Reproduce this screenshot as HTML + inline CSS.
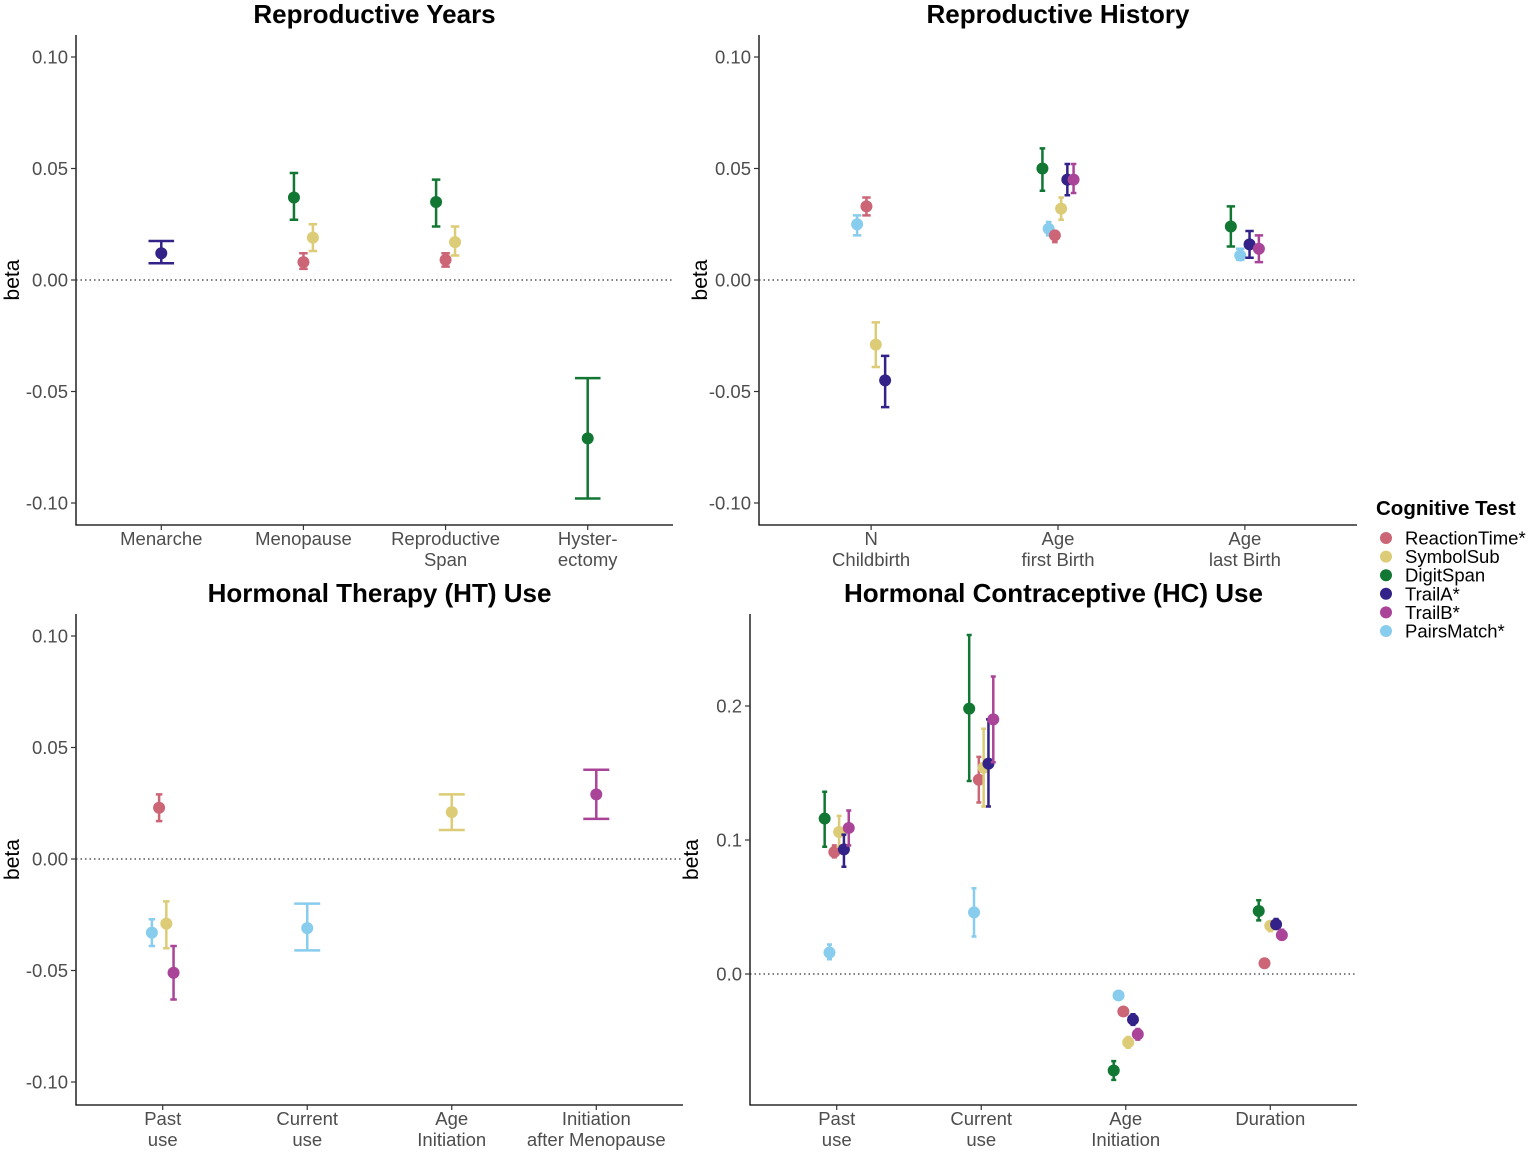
<!DOCTYPE html>
<html><head><meta charset="utf-8"><style>
html,body{margin:0;padding:0;background:#fff;}
svg{display:block;font-family:"Liberation Sans",sans-serif;}
</style></head><body>
<svg id="chart" width="1535" height="1152" viewBox="0 0 1535 1152"></svg>
<script>
const series = ["ReactionTime*","SymbolSub","DigitSpan","TrailA*","TrailB*","PairsMatch*"];
const seriesKeys = ["RT","SS","DS","TA","TB","PM"];
const colors = {RT:"#cc6677",SS:"#ddcc77",DS:"#117733",TA:"#332288",TB:"#aa4499",PM:"#88ccee"};
const dodgeOrder = ["DS","PM","RT","SS","TA","TB"];

// Panel A: Reproductive Years
const ryCats = [["Menarche"],["Menopause"],["Reproductive","Span"],["Hyster-","ectomy"]];
const ryTicks = [0.10,0.05,0.00,-0.05,-0.10];
const ryTickLabels = ["0.10","0.05","0.00","-0.05","-0.10"];
const ryRT = [null,0.008,0.009,null], ryRTlo=[null,0.005,0.006,null], ryRThi=[null,0.012,0.012,null];
const rySS = [null,0.019,0.017,null], rySSlo=[null,0.013,0.011,null], rySShi=[null,0.025,0.024,null];
const ryDS = [null,0.037,0.035,-0.071], ryDSlo=[null,0.027,0.024,-0.098], ryDShi=[null,0.048,0.045,-0.044];
const ryTA = [0.012,null,null,null], ryTAlo=[0.0075,null,null,null], ryTAhi=[0.0175,null,null,null];

// Panel B: Reproductive History
const rhCats = [["N","Childbirth"],["Age","first Birth"],["Age","last Birth"]];
const rhRT = [0.033,0.020,null], rhRTlo=[0.029,0.017,null], rhRThi=[0.037,0.022,null];
const rhSS = [-0.029,0.032,null], rhSSlo=[-0.039,0.027,null], rhSShi=[-0.019,0.037,null];
const rhDS = [null,0.050,0.024], rhDSlo=[null,0.040,0.015], rhDShi=[null,0.059,0.033];
const rhTA = [-0.045,0.045,0.016], rhTAlo=[-0.057,0.038,0.010], rhTAhi=[-0.034,0.052,0.022];
const rhTB = [null,0.045,0.014], rhTBlo=[null,0.039,0.008], rhTBhi=[null,0.052,0.020];
const rhPM = [0.025,0.023,0.011], rhPMlo=[0.020,0.020,0.009], rhPMhi=[0.029,0.026,0.014];

// Panel C: HT use
const htCats = [["Past","use"],["Current","use"],["Age","Initiation"],["Initiation","after Menopause"]];
const htRT = [0.023,null,null,null], htRTlo=[0.017,null,null,null], htRThi=[0.029,null,null,null];
const htSS = [-0.029,null,0.021,null], htSSlo=[-0.040,null,0.013,null], htSShi=[-0.019,null,0.029,null];
const htTB = [-0.051,null,null,0.029], htTBlo=[-0.063,null,null,0.018], htTBhi=[-0.039,null,null,0.040];
const htPM = [-0.033,-0.031,null,null], htPMlo=[-0.039,-0.041,null,null], htPMhi=[-0.027,-0.020,null,null];

// Panel D: HC use
const hcCats = [["Past","use"],["Current","use"],["Age","Initiation"],["Duration"]];
const hcTicks = [0.2,0.1,0.0];
const hcTickLabels = ["0.2","0.1","0.0"];
const hcRT = [0.091,0.145,-0.028,0.008], hcRTlo=[0.087,0.128,-0.030,0.007], hcRThi=[0.096,0.162,-0.026,0.009];
const hcSS = [0.106,0.154,-0.051,0.036], hcSSlo=[0.095,0.125,-0.055,0.032], hcSShi=[0.118,0.183,-0.047,0.039];
const hcDS = [0.116,0.198,-0.072,0.047], hcDSlo=[0.095,0.144,-0.079,0.040], hcDShi=[0.136,0.253,-0.065,0.055];
const hcTA = [0.093,0.157,-0.034,0.037], hcTAlo=[0.080,0.125,-0.038,0.034], hcTAhi=[0.104,0.190,-0.030,0.041];
const hcTB = [0.109,0.190,-0.045,0.029], hcTBlo=[0.096,0.158,-0.049,0.026], hcTBhi=[0.122,0.222,-0.041,0.033];
const hcPM = [0.016,0.046,-0.016,null], hcPMlo=[0.011,0.028,-0.017,null], hcPMhi=[0.022,0.064,-0.015,null];

const NS="http://www.w3.org/2000/svg";
const svg=document.getElementById("chart");
function mk(tag,attrs,parent,text){const e=document.createElementNS(NS,tag);for(const k in attrs)e.setAttribute(k,attrs[k]);if(text!==undefined)e.textContent=text;(parent||svg).appendChild(e);return e;}

function panel(p){
  const g=mk("g",{});
  
  
  const yS=v=>p.y0px+(p.y0val-v)*(p.y1px-p.y0px)/(p.y0val-p.y1val);
  const nC=p.cats.length, unit=(p.x1-p.x0)/(nC-1+1.2);
  const xS=i=>p.x0+(0.6+i)*unit;
  const t=mk("text",{x:(p.x0+p.x1)/2,y:p.top-12,"text-anchor":"middle","font-size":26,"font-weight":"bold",fill:"#000"},g,p.title);
  
  
  const ax=mk("path",{d:`M${p.x0} ${p.top}V${p.bottom}H${p.x1}`,stroke:"#000","stroke-width":1.3,fill:"none"},g);
  
  
  const zl=mk("line",{x1:p.x0,x2:p.x1,y1:yS(0),y2:yS(0),stroke:"#333","stroke-width":1.3,"stroke-dasharray":"1.5,3"},g);
  
  
  p.ticks.forEach((v,i)=>{
    mk("line",{x1:p.x0-5,x2:p.x0,y1:yS(v),y2:yS(v),stroke:"#333","stroke-width":1.2},g);
    const tl=mk("text",{x:p.x0-8,y:yS(v)+6.5,"text-anchor":"end","font-size":18.5,fill:"#4d4d4d"},g,p.tickLabels[i]);
    
    
  });
  p.cats.forEach((c,i)=>{
    mk("line",{x1:xS(i),x2:xS(i),y1:p.bottom,y2:p.bottom+5,stroke:"#333","stroke-width":1.2},g);
    c.forEach((s,j)=>{
      const tl=mk("text",{x:xS(i),y:p.bottom+20+j*21,"text-anchor":"middle","font-size":18.5,fill:"#4d4d4d"},g,s);
      
      
    });
  });
  const yl=mk("text",{x:0,y:0,transform:`translate(19,${(p.top+p.bottom)/2}) rotate(-90)`,"text-anchor":"middle","font-size":21,fill:"#000"},g,"beta");
  
  
  if(p.x0>600) yl.setAttribute('transform',`translate(${p.x0-52},${(p.top+p.bottom)/2}) rotate(-90)`);
  p.cats.forEach((c,i)=>{
    const present=dodgeOrder.filter(k=>p.data[k]&&p.data[k][0][i]!=null);
    const n=present.length, w=0.2*unit, step=w/n;
    present.forEach((k,j)=>{
      const [est,lo,hi]=p.data[k];
      const x=xS(i)+(j-(n-1)/2)*step, cw=Math.max(step*0.9,5)/2;
      const col=colors[k];
      const eb=mk("path",{d:`M${x-cw} ${yS(hi[i])}H${x+cw}M${x} ${yS(hi[i])}V${yS(lo[i])}M${x-cw} ${yS(lo[i])}H${x+cw}`,stroke:col,"stroke-width":2.5,fill:"none"},g);
      
      
      const pt=mk("circle",{cx:x,cy:yS(est[i]),r:6,fill:col},g);
      
      
    });
  });
}
panel({name:"panel-reproductive-years",title:"Reproductive Years",x0:76,x1:673,top:35,bottom:525,y0val:0,y0px:280,y1val:0.10,y1px:57,ticks:ryTicks,tickLabels:ryTickLabels,cats:ryCats,
  data:{RT:[ryRT,ryRTlo,ryRThi],SS:[rySS,rySSlo,rySShi],DS:[ryDS,ryDSlo,ryDShi],TA:[ryTA,ryTAlo,ryTAhi]}});
panel({name:"panel-reproductive-history",title:"Reproductive History",x0:759,x1:1357,top:35,bottom:525,y0val:0,y0px:280,y1val:0.10,y1px:57,ticks:ryTicks,tickLabels:ryTickLabels,cats:rhCats,
  data:{RT:[rhRT,rhRTlo,rhRThi],SS:[rhSS,rhSSlo,rhSShi],DS:[rhDS,rhDSlo,rhDShi],TA:[rhTA,rhTAlo,rhTAhi],TB:[rhTB,rhTBlo,rhTBhi],PM:[rhPM,rhPMlo,rhPMhi]}});
panel({name:"panel-ht-use",title:"Hormonal Therapy (HT) Use",x0:76,x1:683,top:614,bottom:1105,y0val:0,y0px:859,y1val:0.10,y1px:636,ticks:ryTicks,tickLabels:ryTickLabels,cats:htCats,
  data:{RT:[htRT,htRTlo,htRThi],SS:[htSS,htSSlo,htSShi],TB:[htTB,htTBlo,htTBhi],PM:[htPM,htPMlo,htPMhi]}});
panel({name:"panel-hc-use",title:"Hormonal Contraceptive (HC) Use",x0:750,x1:1357,top:614,bottom:1105,y0val:0,y0px:974,y1val:0.2,y1px:706,ticks:hcTicks,tickLabels:hcTickLabels,cats:hcCats,
  data:{RT:[hcRT,hcRTlo,hcRThi],SS:[hcSS,hcSSlo,hcSShi],DS:[hcDS,hcDSlo,hcDShi],TA:[hcTA,hcTAlo,hcTAhi],TB:[hcTB,hcTBlo,hcTBhi],PM:[hcPM,hcPMlo,hcPMhi]}});

const lg=mk("g",{});


const lt=mk("text",{x:1376,y:515,"font-size":20.5,"font-weight":"bold",fill:"#000"},lg,"Cognitive Test");


series.forEach((s,i)=>{
  const y=538+i*18.6;
  const e=mk("g",{},lg);
  
  
  mk("circle",{cx:1386,cy:y,r:6,fill:colors[seriesKeys[i]]},e);
  mk("text",{x:1405,y:y+6.5,"font-size":18.5,fill:"#000"},e,s);
});
</script>
</body></html>
